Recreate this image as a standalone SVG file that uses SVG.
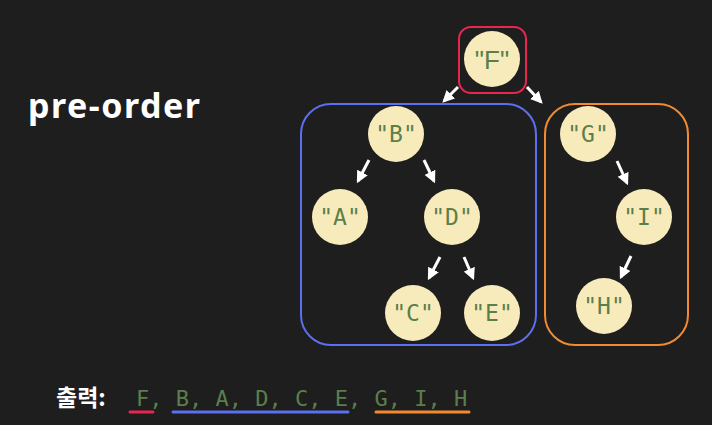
<svg xmlns="http://www.w3.org/2000/svg" width="712" height="425" viewBox="0 0 712 425">
<style>
.bg{fill:#1e1e1e}
.node circle{fill:#f8ebbb;stroke:none}
.node text{fill:#5a7f4c;font-family:"DejaVu Sans Mono","Liberation Mono",monospace;font-size:23px;text-anchor:middle;dominant-baseline:central}
.box{fill:none;stroke-width:2}
.conn line{stroke:#ffffff;stroke-width:3;marker-end:url(#ah)}
.title{fill:#ffffff;font-family:"Noto Sans","Liberation Sans",sans-serif;font-weight:bold;font-size:34px}
.out{fill:#5a7f4c;font-family:"DejaVu Sans Mono","Liberation Mono",monospace;font-size:22px}
.lbl{fill:#ffffff;font-family:"Noto Sans CJK KR",sans-serif;font-weight:bold;font-size:23px}
</style>
<defs>
<marker id="ah" viewBox="0 0 10 10" refX="8" refY="5" markerWidth="4" markerHeight="4" orient="auto" markerUnits="strokeWidth">
<path d="M0,0 L10,5 L0,10 z" fill="#ffffff"/>
</marker>
</defs>
<rect class="bg" x="0" y="0" width="712" height="425"/>
<text class="title" x="28" y="118" letter-spacing="1.5">pre-order</text>
<rect class="box" x="459" y="27" width="67" height="66" rx="12" stroke="#e8264f"/>
<rect class="box" x="301" y="104" width="235" height="241" rx="30" stroke="#5b6ff0"/>
<rect class="box" x="545" y="104" width="143" height="241" rx="30" stroke="#f28a30"/>
<g class="conn">
<line x1="458" y1="87" x2="444" y2="101"/>
<line x1="527" y1="87" x2="541" y2="102"/>
<line x1="369" y1="160" x2="358" y2="181"/>
<line x1="424" y1="160" x2="434" y2="181"/>
<line x1="440" y1="257" x2="429" y2="278"/>
<line x1="464" y1="257" x2="473" y2="278"/>
<line x1="617" y1="161" x2="627" y2="183"/>
<line x1="631" y1="256" x2="621" y2="277"/>
</g>
<g id="F" class="node"><circle cx="492" cy="59" r="28"/><text x="492" y="60" style="font-family:'Liberation Sans',sans-serif;font-size:26px">"F"</text></g>
<g id="B" class="node"><circle cx="396" cy="134" r="28"/><text x="396" y="134">"B"</text></g>
<g id="A" class="node"><circle cx="340" cy="217" r="28"/><text x="340" y="217">"A"</text></g>
<g id="D" class="node"><circle cx="452" cy="217" r="28"/><text x="452" y="217">"D"</text></g>
<g id="C" class="node"><circle cx="413" cy="313" r="28"/><text x="413" y="313">"C"</text></g>
<g id="E" class="node"><circle cx="492" cy="313" r="28"/><text x="492" y="313">"E"</text></g>
<g id="G" class="node"><circle cx="588" cy="134" r="28"/><text x="588" y="134">"G"</text></g>
<g id="I" class="node"><circle cx="644" cy="217" r="28"/><text x="644" y="217">"I"</text></g>
<g id="H" class="node"><circle cx="604" cy="306" r="28"/><text x="604" y="306">"H"</text></g>
<text class="lbl" x="56" y="406">출력:</text>
<text class="out" x="136" y="406" xml:space="preserve">F, B, A, D, C, E, G, I, H</text>
<line x1="130" y1="412" x2="153" y2="412" stroke="#e8264f" stroke-width="3" stroke-linecap="round"/>
<line x1="173" y1="412" x2="348" y2="412" stroke="#5b6ff0" stroke-width="3" stroke-linecap="round"/>
<line x1="376" y1="412" x2="469" y2="412" stroke="#f28a30" stroke-width="3" stroke-linecap="round"/>
</svg>
